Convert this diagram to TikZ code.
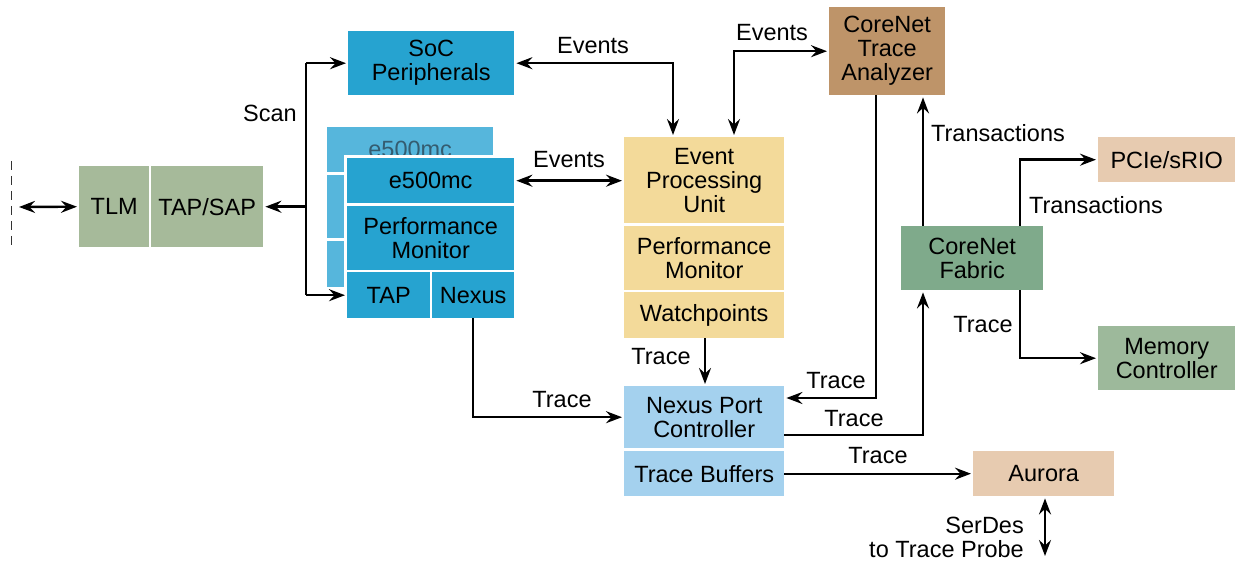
\documentclass[tikz,border=0pt]{standalone}
\usepackage{fontspec}
\setmainfont{Liberation Sans}
\usetikzlibrary{arrows.meta}
\definecolor{socblue}{RGB}{38,163,208}
\definecolor{shadowblue}{RGB}{86,182,220}
\definecolor{shadowtxt}{RGB}{52,92,112}
\definecolor{tlmgreen}{RGB}{166,186,154}
\definecolor{epuyellow}{RGB}{243,218,154}
\definecolor{npcblue}{RGB}{164,209,238}
\definecolor{ctabrown}{RGB}{190,148,105}
\definecolor{cfgreen}{RGB}{127,170,139}
\definecolor{mcgreen}{RGB}{157,185,155}
\definecolor{tan}{RGB}{231,203,176}
\begin{document}
\begin{tikzpicture}[x=1pt,y=-1pt,
  every node/.style={font=\fontsize{23.5}{24}\selectfont},
  blk/.style={anchor=north west, inner sep=0pt, align=center, text=black},
  lbl/.style={inner sep=0pt, align=center},
  tip/.tip={Stealth[length=16pt,width=12pt,inset=5.5pt]},
  arr/.style={line width=2.4pt, -tip, shorten >=2pt},
  dbl/.style={line width=2.4pt, tip-tip, shorten >=2pt, shorten <=2pt},
  ln/.style={line width=2.4pt}
]
\useasboundingbox (0,0) rectangle (1235,561);

% left cut-off dashed edge
\draw[black!80, line width=1pt, dash pattern=on 9pt off 6pt] (11,161) -- (11,247);

% TLM, TAP/SAP
\node[blk, fill=tlmgreen, minimum width=70pt, minimum height=81pt] (tlm) at (79,166) {TLM};
\node[blk, fill=tlmgreen, minimum width=112pt, minimum height=81pt] (tapsap) at (151,166) {TAP/SAP};

% SoC Peripherals
\node[blk, fill=socblue, minimum width=166pt, minimum height=64pt] (soc) at (348,31) {SoC\\Peripherals};

% shadow e500mc stack
\node[blk, fill=shadowblue, text=shadowtxt, minimum width=166pt, minimum height=45pt] (sh1) at (327,127) {e500mc};
\node[blk, fill=shadowblue, minimum width=166pt, minimum height=63pt] (sh2) at (327,175) {};
\node[blk, fill=shadowblue, minimum width=166pt, minimum height=46pt] (sh3) at (327,241) {};
\fill[white] (344,155) rectangle (517,321);

% front e500mc stack
\node[blk, fill=socblue, minimum width=167pt, minimum height=45pt] (e5) at (347,158) {e500mc};
\node[blk, fill=socblue, minimum width=167pt, minimum height=64pt] (pm1) at (347,206) {Performance\\Monitor};
\node[blk, fill=socblue, minimum width=83pt, minimum height=46pt] (tapc) at (347,272) {TAP};
\node[blk, fill=socblue, minimum width=82pt, minimum height=46pt] (nexus) at (432,272) {Nexus};

% EPU stack
\node[blk, fill=epuyellow, minimum width=160pt, minimum height=86pt] (epu) at (624,137) {Event\\Processing\\Unit};
\node[blk, fill=epuyellow, minimum width=160pt, minimum height=64pt] (pm2) at (624,226) {Performance\\Monitor};
\node[blk, fill=epuyellow, minimum width=160pt, minimum height=46pt] (wp) at (624,292) {Watchpoints};

% Nexus port controller
\node[blk, fill=npcblue, minimum width=160pt, minimum height=62pt] (npc) at (624,386) {Nexus Port\\Controller};
\node[blk, fill=npcblue, minimum width=160pt, minimum height=45pt] (tb) at (624,451) {Trace Buffers};

% CoreNet
\node[blk, fill=ctabrown, minimum width=116pt, minimum height=88pt] (cta) at (829,7) {CoreNet\\Trace\\Analyzer};
\node[blk, fill=cfgreen, minimum width=142pt, minimum height=64pt] (cf) at (901,226) {CoreNet\\Fabric};
\node[blk, fill=tan, minimum width=137pt, minimum height=45pt] (pcie) at (1098,137) {PCIe/sRIO};
\node[blk, fill=mcgreen, minimum width=137pt, minimum height=64pt] (mc) at (1098,326) {Memory\\Controller};
\node[blk, fill=tan, minimum width=141pt, minimum height=45pt] (aurora) at (973,451) {Aurora};

% connectors
\coordinate (lft) at (17,207);
\draw[dbl] (lft) -- (tlm.west);

\coordinate (bx) at (306,0);
\draw[ln] (bx |- soc.west) -- (bx |- tapc.west);
\draw[arr] (bx |- soc.west) -- (soc.west);
\draw[arr] (bx |- tapc.west) -- (tapc.west);
\draw[arr] (bx |- tapsap.east) -- (tapsap.east);

\draw[dbl] (soc.east) -| ([xshift=49pt]epu.north west);
\draw[dbl] (cta.west) -| ([xshift=110pt]epu.north west);
\draw[dbl] (e5.east) -- (epu.west |- e5.east);

\draw[arr] ([xshift=81pt]wp.south west) -- ([xshift=81pt]npc.north west);
\draw[arr] (nexus.south) |- (npc.west);
\draw[arr] ([xshift=47pt]cta.south west) |- ([yshift=-12pt]npc.north east);
\draw[arr] ([yshift=-49pt]npc.north east) -| ([xshift=22pt]cf.south west);
\draw[arr] ([xshift=22pt]cf.north west) -- ([xshift=22pt]cf.north west |- cta.south);
\draw[arr] ([xshift=119pt]cf.north west) |- (pcie.west);
\draw[arr] ([xshift=119pt]cf.south west) |- (mc.west);
\draw[arr] (tb.east) -- (aurora.west);
\coordinate (probe) at (1045,558);
\draw[dbl] ([xshift=72pt]aurora.south west) -- (probe);

% labels
\node[lbl] (lscan) at (270,113) {Scan};
\node[lbl] (lev1) at (593,46) {Events};
\node[lbl] (lev2) at (569,160) {Events};
\node[lbl] (lev3) at (772,33) {Events};
\node[lbl] (ltr1) at (661,357) {Trace};
\node[lbl] (ltr2) at (562,400) {Trace};
\node[lbl] (ltr3) at (836,381) {Trace};
\node[lbl] (ltr4) at (854,419) {Trace};
\node[lbl] (ltr5) at (878,456) {Trace};
\node[lbl] (ltr6) at (983,325) {Trace};
\node[lbl] (ltx1) at (998,133) {Transactions};
\node[lbl] (ltx2) at (1096,205) {Transactions};
\node[lbl, anchor=east, align=right] (lser) at (1024,537) {SerDes\\to Trace Probe};
\end{tikzpicture}
\end{document}
